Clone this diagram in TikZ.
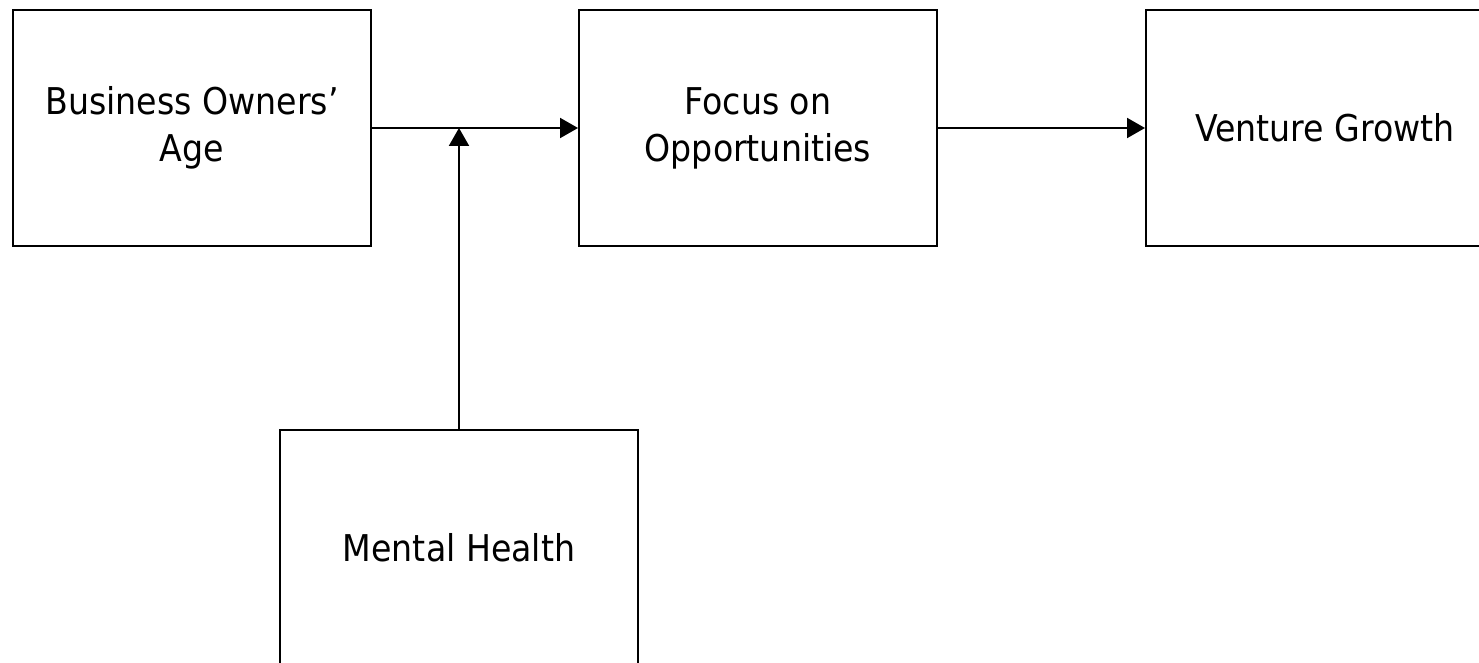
\documentclass[tikz,border=0pt]{standalone}
\usepackage{fontspec}
\setmainfont{DejaVu Sans Condensed}
\usetikzlibrary{arrows.meta,positioning}

\begin{document}
\begin{tikzpicture}[
    line width=0.04cm,
    box/.style={
        draw,
        align=center,
        minimum width=7.16cm,
        minimum height=4.72cm,
        inner sep=3pt,
        font=\fontsize{21}{26.7}\selectfont
    },
    >={Triangle[length=3.6mm,width=4mm]}
]
\clip (-3.84,2.56) rectangle (25.74,-10.70);
\node[box] (age) at (0,0) {Business Owners’\\Age};
\node[box, right=4.12cm of age] (focus) {Focus on\\Opportunities};
\node[box, right=4.14cm of focus] (growth) {Venture Growth};
\coordinate[right=1.74cm of age.east] (join);
\node[box, below=6.02cm of join] (health) {Mental Health};
\draw[->] (age) -- (focus);
\draw[->] (focus) -- (growth);
\draw[->] (health) -- (join);
\end{tikzpicture}
\end{document}
